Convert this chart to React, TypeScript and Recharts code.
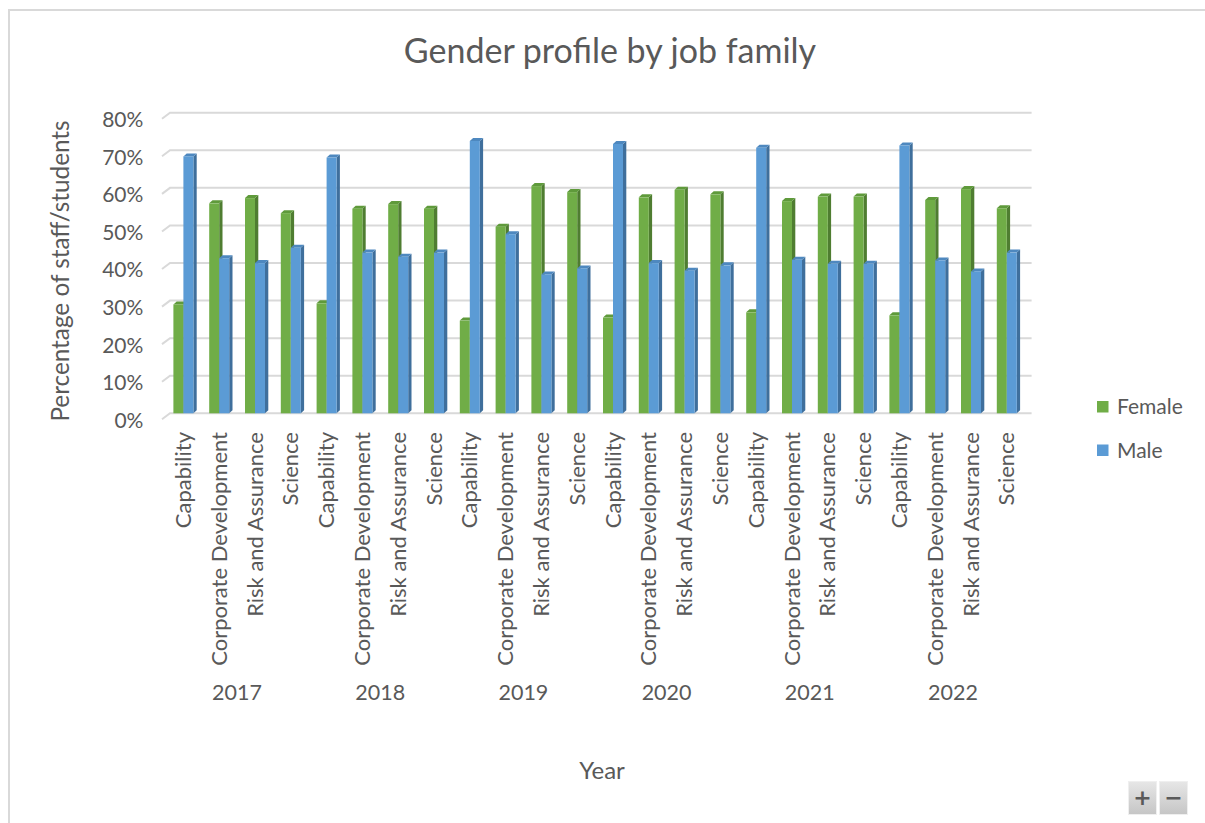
import React from "react";
import { BarChart, Bar, XAxis, YAxis, CartesianGrid, Label } from "recharts";

// ---- data (percent of staff/students) ----
const years = ["2017", "2018", "2019", "2020", "2021", "2022"];
const jobFamilies = ["Capability", "Corporate Development", "Risk and Assurance", "Science"];
const femaleShare = [
  30.3, 57.2, 58.6, 54.6,
  30.6, 55.8, 57.0, 55.8,
  26.0, 51.0, 61.8, 60.2,
  26.8, 58.8, 60.8, 59.6,
  28.2, 57.8, 59.0, 59.0,
  27.4, 58.1, 61.0, 55.9,
];
const maleShare = [
  69.7, 42.6, 41.3, 45.4,
  69.4, 44.1, 43.0, 44.1,
  73.8, 49.0, 38.3, 39.9,
  73.0, 41.3, 39.3, 40.7,
  72.0, 42.2, 41.1, 41.1,
  72.6, 42.0, 39.1, 44.1,
];
const yTicks = [0, 10, 20, 30, 40, 50, 60, 70, 80];
const seriesNames = ["Female", "Male"];
const seriesKeys = ["female", "male"];
const seriesColors = ["#70AD47", "#5B9BD5"];
const seriesSide = ["#4F7D31", "#3F6F9C"];
const seriesCap = ["#5F9A3B", "#4E88BF"];

const rows = years.flatMap((year, yi) =>
  jobFamilies.map((job, ji) => ({
    year,
    job,
    female: femaleShare[yi * 4 + ji],
    male: maleShare[yi * 4 + ji],
  }))
);

const FONT = "Lato, 'Open Sans', sans-serif";
const TEXT = "#595959";
const W = 1205;
const H = 823;

const make3D = (si: number) => (props: any) => {
  const { x, y, width, height } = props;
  if (!height || height <= 0) return null;
  const top = y + 2;
  const bottom = y + height;
  const dx = 3.3;
  const dy = 3;
  return (
    <g>
      <polygon
        points={`${x + width},${top + dy} ${x + width + dx},${top} ${x + width + dx},${bottom - dy} ${x + width},${bottom}`}
        fill={seriesSide[si]}
      />
      <polygon
        points={`${x},${top + dy} ${x + dx},${top} ${x + width + dx},${top} ${x + width},${top + dy}`}
        fill={seriesCap[si]}
      />
      <rect x={x} y={top + dy} width={width} height={bottom - top - dy} fill={seriesColors[si]} />
    </g>
  );
};

const GridLine = (p: any) => {
  const { x1, x2, y1 } = p;
  return (
    <polyline
      key={p.key}
      points={`${x1 - 3.4},${y1 + 6} ${x1 + 4.6},${y1} ${x2 + 7},${y1}`}
      fill="none"
      stroke="#D9D9D9"
      strokeWidth={2}
    />
  );
};

const YTick = (p: any) => (
  <text x={p.x} y={p.y + 7} dy="0.35em" textAnchor="end" fill={TEXT} fontSize={21} fontFamily={FONT}>
    {`${p.payload.value}%`}
  </text>
);

const JobTick = (p: any) => (
  <text
    x={p.x}
    y={p.y}
    dy="0.35em"
    textAnchor="end"
    transform={`rotate(-90, ${p.x}, ${p.y})`}
    fill={TEXT}
    fontSize={22}
    fontFamily={FONT}
  >
    {p.payload.value}
  </text>
);

const YearTick = (p: any) => (
  <text x={p.x} y={p.y} textAnchor="middle" fill={TEXT} fontSize={21.5} fontFamily={FONT}>
    {p.payload.value}
  </text>
);

const YTitle = (p: any) => {
  const vb = p.viewBox;
  const cx = vb.x - 36;
  const cy = vb.y + vb.height / 2 + 8;
  return (
    <text
      x={cx}
      y={cy}
      textAnchor="middle"
      transform={`rotate(-90, ${cx}, ${cy})`}
      fill={TEXT}
      fontSize={24.3}
      fontFamily={FONT}
    >
      Percentage of staff/students
    </text>
  );
};

const XTitle = (p: any) => {
  const vb = p.viewBox;
  return (
    <text x={vb.x + vb.width / 2 + 7} y={vb.y + vb.height - 44} textAnchor="middle" fill={TEXT} fontSize={24} fontFamily={FONT}>
      Year
    </text>
  );
};

export default function App() {
  return (
    <div style={{ position: "fixed", left: 0, top: 0, width: W, height: H, background: "#fff", overflow: "hidden" }}>
      <div
        style={{
          position: "absolute",
          left: 8,
          top: 9,
          width: 1210,
          height: 830,
          borderTop: "2px solid #D9D9D9",
          borderLeft: "2px solid #D9D9D9",
          boxSizing: "border-box",
        }}
      />
      <div style={{ position: "absolute", left: 0, top: 0 }}>
        <BarChart
          width={W}
          height={H}
          data={rows}
          margin={{ top: 112.7, right: 180.4, bottom: 0, left: 105.4 }}
          barGap={0}
        >
          <CartesianGrid vertical={false} horizontal={GridLine} />
          <YAxis
            type="number"
            domain={[0, 80]}
            ticks={yTicks}
            width={60}
            axisLine={false}
            tickLine={false}
            tickSize={0}
            tickMargin={22}
            tick={YTick}
            interval={0}
          >
            <Label content={YTitle} />
          </YAxis>
          <XAxis
            dataKey="job"
            height={250}
            interval={0}
            axisLine={false}
            tickLine={false}
            tickSize={0}
            tickMargin={18.7}
            tick={JobTick}
          />
          <XAxis
            xAxisId="year"
            dataKey="year"
            allowDuplicatedCategory={false}
            height={159.7}
            interval={0}
            axisLine={false}
            tickLine={false}
            tickSize={0}
            tickMargin={36.7}
            tick={YearTick}
          >
            <Label content={XTitle} />
          </XAxis>
          {seriesKeys.map((k, i) => (
            <Bar key={k} dataKey={k} name={seriesNames[i]} barSize={10} shape={make3D(i)} isAnimationActive={false} />
          ))}
        </BarChart>
      </div>
      <svg width={W} height={H} style={{ position: "absolute", left: 0, top: 0, pointerEvents: "none" }}>
        <text x={610} y={63} textAnchor="middle" fill={TEXT} fontSize={34} fontFamily={FONT}>
          Gender profile by job family
        </text>
        {seriesNames.map((n, i) => (
          <g key={n}>
            <rect x={1097} y={401 + i * 43.5} width={11.5} height={11.5} fill={seriesColors[i]} />
            <text x={1117} y={414 + i * 43.5} fill={TEXT} fontSize={21} fontFamily={FONT}>
              {n}
            </text>
          </g>
        ))}
      </svg>
      <div
        style={{
          position: "absolute",
          left: 1128,
          top: 781,
          width: 29,
          height: 34,
          background: "linear-gradient(#E6E6E6, #C6C6C6)",
          border: "1px solid #EFEFEF",
          boxSizing: "border-box",
          color: "#5A5A5A",
          fontFamily: "'DejaVu Sans', sans-serif",
          fontWeight: "bold",
          fontSize: 22,
          lineHeight: "32px",
          textAlign: "center",
        }}
      >
        +
      </div>
      <div
        style={{
          position: "absolute",
          left: 1159,
          top: 781,
          width: 29,
          height: 34,
          background: "linear-gradient(#E6E6E6, #C6C6C6)",
          border: "1px solid #EFEFEF",
          boxSizing: "border-box",
          color: "#5A5A5A",
          fontFamily: "'DejaVu Sans', sans-serif",
          fontWeight: "bold",
          fontSize: 22,
          lineHeight: "32px",
          textAlign: "center",
        }}
      >
        −
      </div>
    </div>
  );
}
